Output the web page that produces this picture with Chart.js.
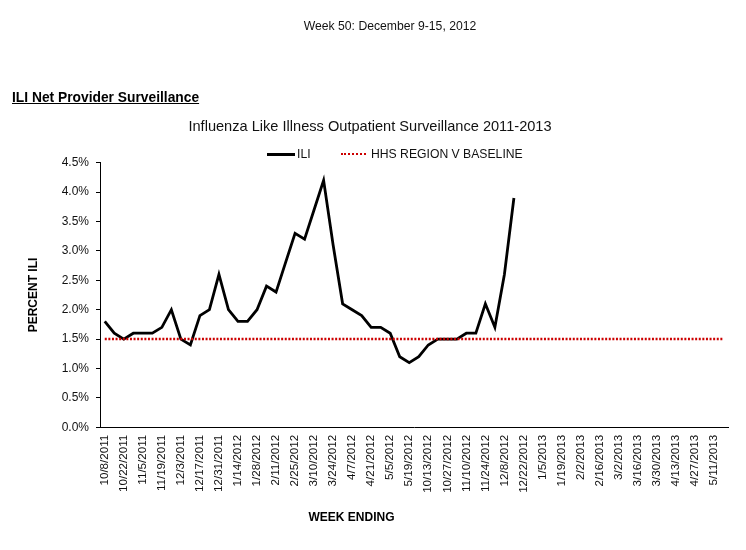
<!DOCTYPE html>
<html>
<head>
<meta charset="utf-8">
<script src="https://cdn.jsdelivr.net/npm/chart.js@4.4.0/dist/chart.umd.min.js"></script>
<style>
  html, body { margin: 0; padding: 0; background: #fff; }
  #wrap { position: relative; width: 746px; height: 550px; font-family: "Liberation Sans", Arial, sans-serif; color: #000; }
  #c { position: absolute; left: 0; top: 0; }
  .t { position: absolute; white-space: nowrap; line-height: 1; }
  #hdr { left: 390px; top: 19.5px; transform: translateX(-50%); font-size: 12.2px; color: #111; }
  #sec { left: 12px; top: 91px; font-size: 13.8px; font-weight: bold; text-decoration: underline; }
  #xt { left: 351.5px; top: 511px; transform: translateX(-50%); font-size: 12px; font-weight: bold; }
  #leg { position: absolute; left: 267px; top: 147px; height: 14px; font-size: 12.2px; }
  .sw { position: absolute; top: 6px; }
  #sw1 { left: 0; width: 28px; height: 0; border-top: 3px solid #000; top: 5.5px; }
  #sw2 { left: 74px; width: 25px; height: 0; border-top: 2.5px dotted #cc0000; top: 6px; }
  .lt { position: absolute; top: 0; line-height: 14px; white-space: nowrap; color: #111; }
</style>
</head>
<body>
<div id="wrap">
  <canvas id="c" width="746" height="550"></canvas>
  <div class="t" id="hdr">Week 50: December 9-15, 2012</div>
  <div class="t" id="sec">ILI Net Provider Surveillance</div>
  <div id="leg">
    <div class="sw" id="sw1"></div><div class="lt" style="left:30px">ILI</div>
    <div class="sw" id="sw2"></div><div class="lt" style="left:104px">HHS REGION V BASELINE</div>
  </div>
  <div class="t" id="xt">WEEK ENDING</div>
</div>
<script>
const weekLabels = [
  "10/8/2011","10/15/2011","10/22/2011","10/29/2011","11/5/2011","11/12/2011","11/19/2011","11/26/2011",
  "12/3/2011","12/10/2011","12/17/2011","12/24/2011","12/31/2011",
  "1/7/2012","1/14/2012","1/21/2012","1/28/2012","2/4/2012","2/11/2012","2/18/2012","2/25/2012",
  "3/3/2012","3/10/2012","3/17/2012","3/24/2012","3/31/2012","4/7/2012","4/14/2012","4/21/2012",
  "4/28/2012","5/5/2012","5/12/2012","5/19/2012",
  "10/6/2012","10/13/2012","10/20/2012","10/27/2012","11/3/2012","11/10/2012","11/17/2012","11/24/2012",
  "12/1/2012","12/8/2012","12/15/2012","12/22/2012","12/29/2012",
  "1/5/2013","1/12/2013","1/19/2013","1/26/2013","2/2/2013","2/9/2013","2/16/2013","2/23/2013",
  "3/2/2013","3/9/2013","3/16/2013","3/23/2013","3/30/2013","4/6/2013","4/13/2013","4/20/2013",
  "4/27/2013","5/4/2013","5/11/2013","5/18/2013"
];

const iliValues = [
  1.8,1.6,1.5,1.6,1.6,1.6,1.7,2.0,1.5,1.4,
  1.9,2.0,2.6,2.0,1.8,1.8,2.0,2.4,2.3,2.8,
  3.3,3.2,3.7,4.2,3.1,2.1,2.0,1.9,1.7,1.7,
  1.6,1.2,1.1,1.2,1.4,1.5,1.5,1.5,1.6,1.6,
  2.1,1.7,2.6,3.9
];

const baselineValues = [
  1.5,1.5,1.5,1.5,1.5,1.5,1.5,1.5,1.5,1.5,1.5,
  1.5,1.5,1.5,1.5,1.5,1.5,1.5,1.5,1.5,1.5,1.5,
  1.5,1.5,1.5,1.5,1.5,1.5,1.5,1.5,1.5,1.5,1.5,
  1.5,1.5,1.5,1.5,1.5,1.5,1.5,1.5,1.5,1.5,1.5,
  1.5,1.5,1.5,1.5,1.5,1.5,1.5,1.5,1.5,1.5,1.5,
  1.5,1.5,1.5,1.5,1.5,1.5,1.5,1.5,1.5,1.5,1.5
];

const yTicks = [0, 0.5, 1.0, 1.5, 2.0, 2.5, 3.0, 3.5, 4.0, 4.5];

const FONT = '"Liberation Sans", Arial, sans-serif';

new Chart(document.getElementById('c'), {
  type: 'line',
  data: {
    labels: weekLabels,
    datasets: [
      {
        label: 'HHS REGION V BASELINE',
        data: baselineValues,
        borderColor: '#cc0000',
        borderWidth: 2.5,
        borderDash: [2, 1.6],
        pointRadius: 0,
        fill: false,
        tension: 0
      },
      {
        label: 'ILI',
        data: iliValues,
        borderColor: '#000000',
        borderWidth: 2.8,
        pointRadius: 0,
        fill: false,
        tension: 0
      }
    ]
  },
  options: {
    responsive: false,
    animation: false,
    layout: { padding: { top: 100, left: 12, right: 18, bottom: 0 } },
    plugins: {
      legend: { display: false },
      tooltip: { enabled: false },
      title: {
        display: true,
        text: 'Influenza Like Illness Outpatient Surveillance 2011-2013',
        color: '#111',
        font: { family: FONT, size: 14.6, weight: 'normal', lineHeight: 1.2 },
        padding: { top: 18.7, bottom: 26.48 }
      }
    },
    scales: {
      x: {
        type: 'category',
        offset: true,
        grid: { display: false, drawTicks: false },
        border: { display: true, color: '#000', width: 1 },
        ticks: {
          autoSkip: false,
          maxRotation: 90,
          minRotation: 90,
          padding: 7.5,
          color: '#111',
          font: { family: FONT, size: 11.6 },
          callback: function(v, i) { return i % 2 === 0 ? weekLabels[i] : ''; }
        },
        afterFit: function(s) { s.height = 122.7; }
      },
      y: {
        min: 0,
        max: 4.5,
        afterBuildTicks: function(s) { s.ticks = yTicks.map(v => ({ value: v })); },
        grid: { drawOnChartArea: false, drawTicks: true, tickLength: 4, color: '#000' },
        border: { display: true, color: '#000', width: 1 },
        ticks: {
          padding: 7,
          color: '#111',
          font: { family: FONT, size: 12 },
          callback: function(v) { return v.toFixed(1) + '%'; }
        },
        title: {
          display: true,
          text: 'PERCENT ILI',
          color: '#000',
          font: { family: FONT, size: 12, weight: 'bold', lineHeight: 1.2 },
          padding: { top: 14.5, bottom: 0 }
        },
        afterFit: function(s) { s.width = 88; }
      }
    }
  }
});
</script>
</body>
</html>
